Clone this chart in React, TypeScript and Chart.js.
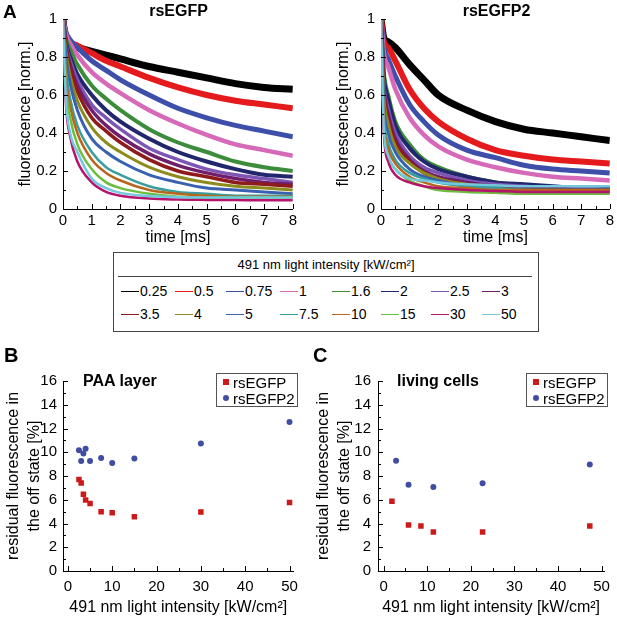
import React, { useEffect, useRef } from "react";
import { Chart, registerables } from "chart.js";

Chart.register(...registerables);

// ---------- DATA ----------
const TIME_MS = [0, 0.1, 0.25, 0.5, 1, 1.5, 2, 3, 4, 5, 6, 7, 8];
const INTENSITIES = ["0.25", "0.5", "0.75", "1", "1.6", "2", "2.5", "3", "3.5", "4", "5", "7.5", "10", "15", "30", "50"];

// rsEGFP traces (panel A, left), one row per intensity, values at TIME_MS
const RSEGFP_TRACES = [
  [1, 0.85, 0.86, 0.85, 0.83, 0.81, 0.79, 0.75, 0.72, 0.69, 0.66, 0.64, 0.63],
  [1, 0.92, 0.88, 0.86, 0.82, 0.78, 0.75, 0.69, 0.64, 0.6, 0.57, 0.55, 0.53],
  [1, 0.93, 0.89, 0.85, 0.78, 0.73, 0.68, 0.6, 0.53, 0.48, 0.44, 0.41, 0.38],
  [1, 0.92, 0.87, 0.81, 0.72, 0.66, 0.61, 0.52, 0.45, 0.39, 0.34, 0.31, 0.28],
  [1, 0.9, 0.84, 0.76, 0.65, 0.58, 0.52, 0.42, 0.35, 0.3, 0.25, 0.22, 0.2],
  [1, 0.88, 0.8, 0.71, 0.6, 0.52, 0.46, 0.37, 0.3, 0.25, 0.21, 0.18, 0.17],
  [1, 0.87, 0.78, 0.68, 0.55, 0.48, 0.42, 0.32, 0.26, 0.21, 0.18, 0.16, 0.14],
  [1, 0.86, 0.76, 0.65, 0.52, 0.44, 0.38, 0.29, 0.23, 0.19, 0.16, 0.14, 0.13],
  [1, 0.85, 0.74, 0.62, 0.48, 0.41, 0.35, 0.26, 0.2, 0.17, 0.14, 0.13, 0.12],
  [1, 0.83, 0.7, 0.57, 0.43, 0.35, 0.3, 0.22, 0.17, 0.14, 0.12, 0.11, 0.1],
  [1, 0.8, 0.66, 0.52, 0.37, 0.3, 0.25, 0.18, 0.14, 0.11, 0.1, 0.09, 0.08],
  [1, 0.74, 0.58, 0.44, 0.3, 0.22, 0.18, 0.12, 0.09, 0.08, 0.07, 0.07, 0.07],
  [1, 0.7, 0.54, 0.4, 0.26, 0.19, 0.15, 0.1, 0.08, 0.07, 0.065, 0.065, 0.065],
  [1, 0.65, 0.48, 0.34, 0.21, 0.14, 0.11, 0.08, 0.065, 0.06, 0.06, 0.06, 0.06],
  [1, 0.56, 0.38, 0.25, 0.14, 0.09, 0.07, 0.055, 0.05, 0.048, 0.047, 0.046, 0.046],
  [1, 0.58, 0.4, 0.3, 0.16, 0.11, 0.085, 0.068, 0.062, 0.06, 0.06, 0.06, 0.06],
];

// rsEGFP2 traces (panel A, right)
const RSEGFP2_TRACES = [
  [1, 0.9, 0.88, 0.85, 0.76, 0.68, 0.6, 0.52, 0.46, 0.42, 0.4, 0.38, 0.36],
  [1, 0.88, 0.85, 0.78, 0.63, 0.53, 0.46, 0.37, 0.31, 0.28, 0.26, 0.25, 0.24],
  [1, 0.85, 0.79, 0.7, 0.55, 0.46, 0.39, 0.31, 0.27, 0.23, 0.21, 0.2, 0.19],
  [1, 0.82, 0.75, 0.63, 0.48, 0.39, 0.33, 0.26, 0.22, 0.19, 0.17, 0.16, 0.15],
  [1, 0.72, 0.6, 0.46, 0.34, 0.26, 0.22, 0.17, 0.14, 0.12, 0.11, 0.1, 0.1],
  [1, 0.7, 0.58, 0.44, 0.32, 0.25, 0.21, 0.17, 0.14, 0.13, 0.12, 0.11, 0.11],
  [1, 0.66, 0.53, 0.4, 0.28, 0.22, 0.19, 0.15, 0.13, 0.12, 0.11, 0.11, 0.1],
  [1, 0.64, 0.5, 0.37, 0.26, 0.2, 0.17, 0.14, 0.12, 0.11, 0.11, 0.1, 0.1],
  [1, 0.62, 0.48, 0.35, 0.25, 0.19, 0.16, 0.13, 0.11, 0.1, 0.1, 0.1, 0.1],
  [1, 0.6, 0.45, 0.33, 0.24, 0.19, 0.16, 0.13, 0.11, 0.1, 0.095, 0.09, 0.09],
  [1, 0.55, 0.4, 0.3, 0.21, 0.17, 0.15, 0.12, 0.11, 0.1, 0.1, 0.1, 0.1],
  [1, 0.5, 0.35, 0.26, 0.19, 0.16, 0.14, 0.12, 0.11, 0.1, 0.1, 0.1, 0.1],
  [1, 0.47, 0.32, 0.24, 0.17, 0.14, 0.12, 0.11, 0.1, 0.1, 0.1, 0.1, 0.1],
  [1, 0.43, 0.28, 0.21, 0.15, 0.12, 0.1, 0.09, 0.085, 0.08, 0.08, 0.08, 0.08],
  [1, 0.4, 0.25, 0.18, 0.14, 0.12, 0.11, 0.1, 0.095, 0.09, 0.09, 0.09, 0.09],
  [1, 0.42, 0.28, 0.21, 0.16, 0.15, 0.14, 0.13, 0.125, 0.12, 0.12, 0.12, 0.12],
];

// Panel B: PAA layer
const PAA_INTENSITY = [2.5, 3, 3.5, 4, 5, 7.5, 10, 15, 30, 50];
const PAA_RSEGFP = [7.7, 7.42, 6.47, 5.97, 5.69, 4.99, 4.9, 4.57, 4.96, 5.77];
const PAA_RSEGFP2 = [10.17, 9.27, 9.89, 10.3, 9.27, 9.52, 9.1, 9.47, 10.73, 12.55];

// Panel C: living cells
const CELLS_RSEGFP_INTENSITY = [1.9, 5.7, 8.55, 11.4, 22.7, 47.3];
const CELLS_RSEGFP = [5.88, 3.87, 3.79, 3.29, 3.29, 3.79];
const CELLS_RSEGFP2_INTENSITY = [2.85, 5.7, 11.4, 22.7, 47.3];
const CELLS_RSEGFP2 = [9.28, 7.27, 7.08, 7.38, 8.97];

// ---------- STYLE ----------
const TRACE_COLORS = [
  "#000000", "#e41a1c", "#3d4fa8", "#d66ab8", "#3c8c3c", "#22266c", "#7d55b5", "#701e6c",
  "#8e1b1b", "#8c8c1e", "#3a60b0", "#3a9e9e", "#b8651e", "#6cbf3e", "#b5136c", "#72c8dc",
];
// thick strokes stand in for the noise band of each trace
const TRACE_WIDTHS = [7, 6, 5, 4.5, 4, 4, 3.5, 3.5, 3.5, 3, 3, 2.5, 2.5, 2.5, 2.5, 2.5];
const RED = "#cc1a1a";
const BLUE = "#3f4ea1";
const FONT = "'Liberation Sans', Arial, Helvetica, sans-serif";

Chart.defaults.font.family = FONT;
Chart.defaults.color = "#000";

// inward major/minor tick marks
const inwardTicks = {
  id: "inwardTicks",
  afterDraw(chart: any, _args: any, opts: any) {
    const { ctx, chartArea } = chart;
    ctx.save();
    ctx.strokeStyle = "#000";
    ctx.lineWidth = 1;
    const draw = (scale: any, major: number, minor: number, horizontal: boolean) => {
      const k0 = Math.ceil(scale.min / minor - 1e-9);
      const k1 = Math.floor(scale.max / minor + 1e-9);
      for (let k = k0; k <= k1; k++) {
        const v = k * minor;
        const r = v / major;
        const isMajor = Math.abs(r - Math.round(r)) < 1e-6;
        const len = isMajor ? 5 : 3;
        const p = Math.round(scale.getPixelForValue(v)) + 0.5;
        ctx.beginPath();
        if (horizontal) {
          ctx.moveTo(p, chartArea.bottom);
          ctx.lineTo(p, chartArea.bottom - len);
        } else {
          ctx.moveTo(chartArea.left, p);
          ctx.lineTo(chartArea.left + len, p);
        }
        ctx.stroke();
      }
    };
    draw(chart.scales.x, opts.xMajor, opts.xMinor, true);
    draw(chart.scales.y, opts.yMajor, opts.yMinor, false);
    ctx.restore();
  },
};

const plainNumber = (v: any) => String(Number(Number(v).toFixed(3)));

function traceDatasets(traces: number[][]) {
  return traces.map((vals, i) => ({
    label: INTENSITIES[i],
    data: vals.map((v, j) => ({ x: TIME_MS[j], y: v })),
    borderColor: TRACE_COLORS[i],
    backgroundColor: TRACE_COLORS[i],
    borderWidth: TRACE_WIDTHS[i],
    borderJoinStyle: "round",
    pointRadius: 0,
    fill: false,
    cubicInterpolationMode: "monotone",
    order: traces.length - i,
  }));
}

function traceConfig(traces: number[][], yWidth: number, padRight: number) {
  return {
    type: "line",
    data: { datasets: traceDatasets(traces) },
    plugins: [inwardTicks],
    options: {
      responsive: false,
      animation: false,
      events: [],
      layout: { padding: { top: 19, right: padRight, left: 0, bottom: 0 } },
      plugins: {
        legend: { display: false },
        tooltip: { enabled: false },
        inwardTicks: { xMajor: 1, xMinor: 0.5, yMajor: 0.2, yMinor: 0.1 },
      },
      scales: {
        x: {
          type: "linear",
          min: 0,
          max: 8,
          afterFit: (s: any) => { s.height = 41; },
          ticks: { stepSize: 1, font: { size: 15 }, padding: 3, color: "#000", includeBounds: false, callback: plainNumber },
          grid: { drawOnChartArea: false, drawTicks: false },
          border: { color: "#000", width: 1 },
          title: { display: true, text: "time [ms]", font: { size: 16, lineHeight: 1.2 }, padding: { top: 0, bottom: 3 }, color: "#000" },
        },
        y: {
          type: "linear",
          min: 0,
          max: 1,
          afterFit: (s: any) => { s.width = yWidth; },
          ticks: { stepSize: 0.2, font: { size: 15 }, padding: 6, color: "#000", callback: plainNumber },
          grid: { drawOnChartArea: false, drawTicks: false },
          border: { color: "#000", width: 1 },
          title: { display: true, text: "fluorescence [norm.]", font: { size: 16, lineHeight: 1.2 }, padding: { top: 16, bottom: 0 }, color: "#000" },
        },
      },
    },
  };
}

function pts(xs: number[], ys: number[]) {
  return xs.map((x, i) => ({ x, y: ys[i] }));
}

function scatterConfig(
  redData: { x: number; y: number }[],
  blueData: { x: number; y: number }[],
  xMin: number,
  xMax: number,
  yWidth: number,
  padRight: number,
  tickPad: number
) {
  return {
    type: "scatter",
    data: {
      datasets: [
        { label: "rsEGFP", data: redData, pointStyle: "rect", pointRadius: 3.9, backgroundColor: RED, borderColor: RED, borderWidth: 0 },
        { label: "rsEGFP2", data: blueData, pointStyle: "circle", pointRadius: 3, backgroundColor: BLUE, borderColor: BLUE, borderWidth: 0 },
      ],
    },
    plugins: [inwardTicks],
    options: {
      responsive: false,
      animation: false,
      events: [],
      layout: { padding: { top: 41, right: padRight, left: 0, bottom: 0 } },
      plugins: {
        legend: { display: false },
        tooltip: { enabled: false },
        inwardTicks: { xMajor: 10, xMinor: 5, yMajor: 2, yMinor: 1 },
      },
      scales: {
        x: {
          type: "linear",
          min: xMin,
          max: xMax,
          afterFit: (s: any) => { s.height = 46; },
          ticks: { stepSize: 10, font: { size: 15 }, padding: 7, color: "#000", includeBounds: false, callback: plainNumber },
          grid: { drawOnChartArea: false, drawTicks: false },
          border: { color: "#000", width: 1 },
          title: { display: true, text: "491 nm light intensity [kW/cm\u00B2]", font: { size: 16, lineHeight: 1.2 }, padding: { top: 0, bottom: 0 }, color: "#000" },
        },
        y: {
          type: "linear",
          min: 0,
          max: 16,
          afterFit: (s: any) => { s.width = yWidth; },
          ticks: { stepSize: 2, font: { size: 15 }, padding: tickPad, color: "#000", callback: plainNumber },
          grid: { drawOnChartArea: false, drawTicks: false },
          border: { color: "#000", width: 1 },
          title: {
            display: true,
            text: ["residual fluorescence in", "the off state [%]"],
            font: { size: 16, lineHeight: 1.3 },
            padding: { top: 3, bottom: 0 },
            color: "#000",
          },
        },
      },
    },
  };
}

function ChartCanvas(props: { left: number; top: number; width: number; height: number; make: () => any }) {
  const ref = useRef<HTMLCanvasElement>(null);
  useEffect(() => {
    const chart = new Chart(ref.current as HTMLCanvasElement, props.make());
    return () => chart.destroy();
  }, []);
  return (
    <canvas
      ref={ref}
      width={props.width}
      height={props.height}
      style={{ position: "absolute", left: props.left, top: props.top, width: props.width, height: props.height }}
    />
  );
}

function Text(props: { left: number; top: number; size: number; bold?: boolean; width?: number; center?: boolean; children: any }) {
  const L = Math.round(props.size * 1.25);
  return (
    <div
      style={{
        position: "absolute",
        left: props.left,
        top: props.top - L / 2,
        width: props.width,
        lineHeight: `${L}px`,
        height: L,
        fontSize: props.size,
        fontWeight: props.bold ? "bold" : "normal",
        textAlign: props.center ? "center" : "left",
        whiteSpace: "nowrap",
        color: "#000",
      }}
    >
      {props.children}
    </div>
  );
}

const LEGEND_COLS = [121, 175, 226, 280, 332, 381, 431, 482];
const LEGEND_ROWS = [291, 314];

function IntensityLegend() {
  return (
    <>
      <div
        style={{
          position: "absolute",
          left: 113,
          top: 252,
          width: 426,
          height: 80,
          boxSizing: "border-box",
          border: "1px solid #444",
        }}
      />
      <div style={{ position: "absolute", left: 118, top: 276, width: 414, height: 1, background: "#444" }} />
      <Text left={113} top={265} size={13} width={426} center>
        491 nm light intensity [kW/cm{"\u00B2"}]
      </Text>
      {INTENSITIES.map((lab, i) => {
        const col = i % 8;
        const row = Math.floor(i / 8);
        const x = LEGEND_COLS[col];
        const y = LEGEND_ROWS[row];
        return (
          <React.Fragment key={lab}>
            <div style={{ position: "absolute", left: x, top: y, width: 18, height: 1, background: TRACE_COLORS[i] }} />
            <Text left={x + 19} top={y} size={14}>
              {lab}
            </Text>
          </React.Fragment>
        );
      })}
    </>
  );
}

function MarkerLegend(props: { left: number; top: number }) {
  const { left, top } = props;
  return (
    <>
      <div
        style={{
          position: "absolute",
          left,
          top,
          width: 82,
          height: 34,
          boxSizing: "border-box",
          border: "1px solid #555",
        }}
      />
      <div style={{ position: "absolute", left: left + 10 - 2.75, top: top + 9 - 2.75, width: 5.5, height: 5.5, background: RED }} />
      <div style={{ position: "absolute", left: left + 10 - 3, top: top + 25 - 3, width: 6, height: 6, borderRadius: 3, background: BLUE }} />
      <Text left={left + 17} top={top + 9} size={15}>rsEGFP</Text>
      <Text left={left + 17} top={top + 25} size={15}>rsEGFP2</Text>
    </>
  );
}

export default function App() {
  return (
    <div
      style={{
        position: "fixed",
        left: 0,
        top: 0,
        width: 617,
        height: 617,
        background: "#fff",
        fontFamily: FONT,
        overflow: "hidden",
      }}
    >
      <ChartCanvas left={0} top={0} width={300} height={250} make={() => traceConfig(RSEGFP_TRACES, 63, 6)} />
      <ChartCanvas left={318} top={0} width={299} height={250} make={() => traceConfig(RSEGFP2_TRACES, 63, 5)} />
      <ChartCanvas
        left={0}
        top={340}
        width={305}
        height={277}
        make={() => scatterConfig(pts(PAA_INTENSITY, PAA_RSEGFP), pts(PAA_INTENSITY, PAA_RSEGFP2), -1.1, 50.9, 63, 8, 6)}
      />
      <ChartCanvas
        left={310}
        top={340}
        width={307}
        height={277}
        make={() =>
          scatterConfig(
            pts(CELLS_RSEGFP_INTENSITY, CELLS_RSEGFP),
            pts(CELLS_RSEGFP2_INTENSITY, CELLS_RSEGFP2),
            -1.3,
            50.6,
            68,
            9,
            7
          )
        }
      />

      <Text left={3} top={11.5} size={19} bold>A</Text>
      <Text left={63} top={11} size={16} bold width={231} center>rsEGFP</Text>
      <Text left={381} top={11} size={16} bold width={231} center>rsEGFP2</Text>

      <IntensityLegend />

      <Text left={4} top={355.5} size={20} bold>B</Text>
      <Text left={313} top={355.5} size={20} bold>C</Text>
      <Text left={83} top={381} size={16} bold>PAA layer</Text>
      <Text left={397} top={381} size={16} bold>living cells</Text>

      <MarkerLegend left={216} top={373} />
      <MarkerLegend left={526} top={373} />
    </div>
  );
}
